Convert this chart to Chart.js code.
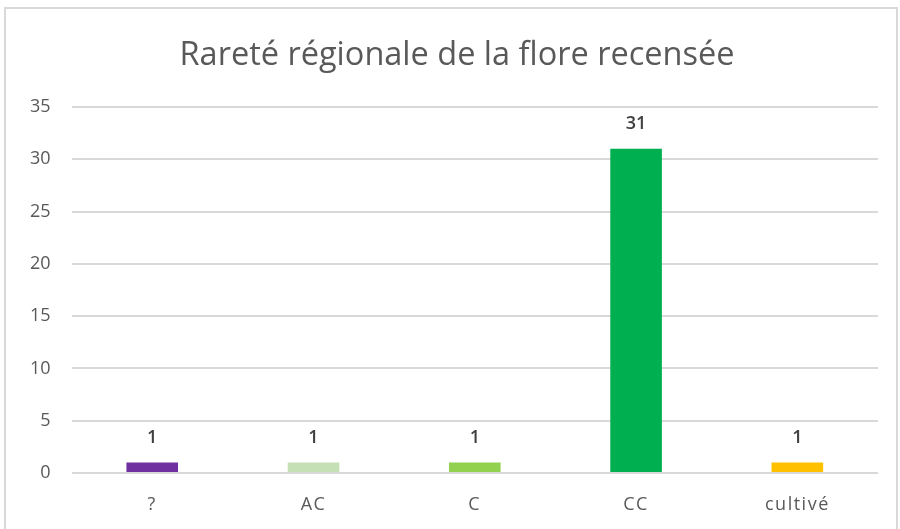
<!DOCTYPE html>
<html>
<head>
<meta charset="utf-8">
<script src="https://cdn.jsdelivr.net/npm/chart.js@4.4.0/dist/chart.umd.min.js"></script>
<style>
  body { margin: 0; background: #fff; }
  #frame { position: absolute; left: 4px; top: 7px; width: 890px; height: 540px; border: 2px solid #d9d9d9; }
  #wrap { position: absolute; left: 0; top: 0; width: 900px; height: 529px; }
</style>
</head>
<body>
<div id="frame"></div>
<div id="wrap"><canvas id="chart"></canvas></div>
<script>
var chartTitle = "Rareté régionale de la flore recensée";
var categories = ["?", "AC", "C", "CC", "cultivé"];
var counts = [1, 1, 1, 31, 1];
var barColors = ["#7030A0", "#C5E0B4", "#92D050", "#00B050", "#FFC000"];
var yTicks = [0, 5, 10, 15, 20, 25, 30, 35];

// title, value above each bar, spaced category labels under the axis
var textLayer = {
    id: "textLayer",
    afterDatasetsDraw: function(chart) {
        var ctx = chart.ctx;
        var meta = chart.getDatasetMeta(0);
        var xScale = chart.scales.x;
        ctx.save();
        ctx.textAlign = "center";
        ctx.textBaseline = "middle";

        ctx.font = "32.5px 'Open Sans'";
        ctx.fillStyle = "#595959";
        ctx.fillText(chartTitle, 457, 56);

        ctx.font = "600 18px 'Open Sans'";
        ctx.fillStyle = "#404040";
        meta.data.forEach(function(bar, i) {
            ctx.fillText(counts[i], bar.x, bar.y - 25);
        });

        ctx.font = "18px 'Open Sans'";
        ctx.fillStyle = "#595959";
        ctx.letterSpacing = "1.5px";
        categories.forEach(function(cat, i) {
            ctx.fillText(cat, xScale.getPixelForTick(i), chart.chartArea.bottom + 32);
        });
        ctx.restore();
    }
};

var ctx = document.getElementById("chart").getContext("2d");
new Chart(ctx, {
    type: "bar",
    data: {
        labels: categories,
        datasets: [{
            data: counts,
            backgroundColor: barColors,
            barPercentage: 0.32,
            categoryPercentage: 1
        }]
    },
    options: {
        responsive: true,
        maintainAspectRatio: false,
        animation: false,
        layout: { padding: { left: 9, right: 22, top: 107, bottom: 56 } },
        plugins: {
            legend: { display: false },
            tooltip: { enabled: false },
            title: { display: false }
        },
        scales: {
            x: {
                grid: { display: false, drawTicks: false },
                border: { display: false },
                ticks: { display: false }
            },
            y: {
                min: 0,
                max: 35,
                afterBuildTicks: function(axis) {
                    axis.ticks = yTicks.map(function(v) { return { value: v }; });
                },
                grid: { color: "#d9d9d9", lineWidth: 2, drawTicks: false },
                border: { display: false },
                ticks: { color: "#595959", font: { family: "'Open Sans'", size: 18 }, padding: 21 }
            }
        }
    },
    plugins: [textLayer]
});
</script>
</body>
</html>
